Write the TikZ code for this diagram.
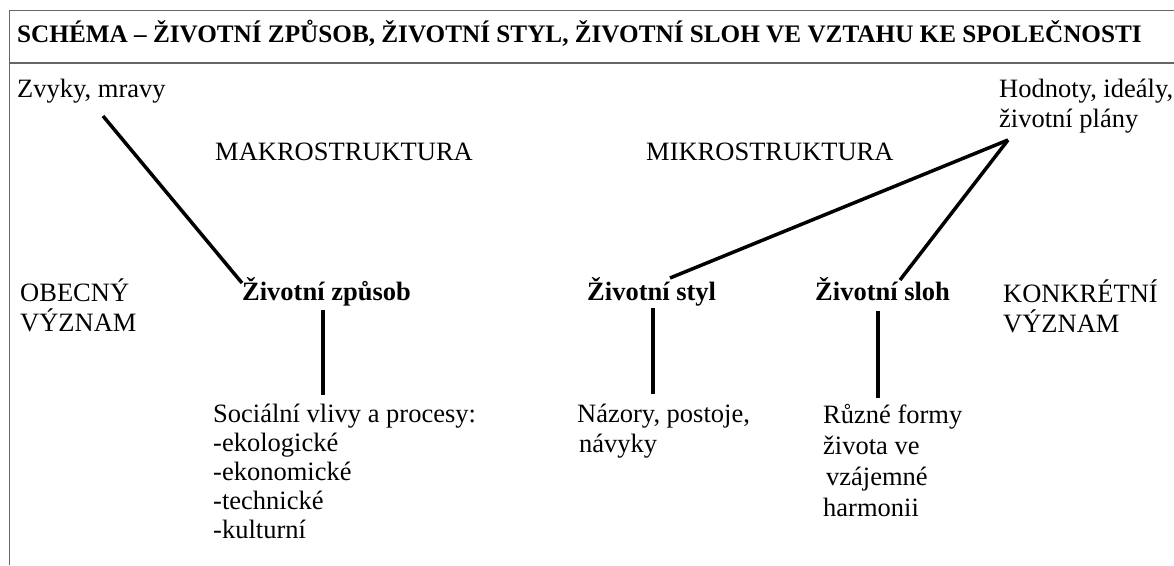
\documentclass[tikz,border=0pt]{standalone}
\usepackage{fontspec}
\setmainfont{Liberation Serif}
\begin{document}
\begin{tikzpicture}[x=1pt,y=-1pt,
  txt/.style={anchor=base west,inner sep=0pt,align=left,font=\fontsize{26.5}{29}\selectfont},
  bold/.style={txt,font=\fontsize{26.5}{29}\selectfont\bfseries},
  frame/.style={draw=black!60,line width=1.6pt},
  conn/.style={draw=black,line width=3.5pt}]
\useasboundingbox (0,0) rectangle (1174,565);
% frame
\coordinate (ftl) at (9.5,10.5);
\coordinate (ftr) at (1174,10.5);
\coordinate (fbl) at (9.5,565);
\coordinate (fml) at (9.5,63);
\coordinate (fmr) at (1174,63);
\draw[frame] (fbl) -- (ftl) -- (ftr);
\draw[frame] (fml) -- (fmr);
% title
\node[bold,font=\fontsize{25.2}{29}\selectfont\bfseries] (title) at (17,42) {SCHÉMA – ŽIVOTNÍ ZPŮSOB, ŽIVOTNÍ STYL, ŽIVOTNÍ SLOH VE VZTAHU KE SPOLEČNOSTI};
% texts (multi-line nodes are placed by the baseline of their last line)
\node[txt] (zvyky) at (17,97) {Zvyky, mravy};
\node[txt,font=\fontsize{26.5}{30}\selectfont] (hodnoty) at (999,127) {Hodnoty, ideály,\\životní plány};
\node[txt] (makro) at (215,160) {MAKROSTRUKTURA};
\node[txt] (mikro) at (646,160) {MIKROSTRUKTURA};
\node[txt,font=\fontsize{26.5}{30}\selectfont] (obecny) at (20,331) {OBECNÝ\\VÝZNAM};
\node[txt,font=\fontsize{26.5}{30}\selectfont] (konkretni) at (1003,332) {KONKRÉTNÍ\\VÝZNAM};
\node[bold] (zpusob) at (242,300) {Životní způsob};
\node[bold] (styl) at (587,300) {Životní styl};
\node[bold] (sloh) at (815,300) {Životní sloh};
\node[txt,font=\fontsize{26.5}{28.8}\selectfont] (vlivy) at (213,538) {Sociální vlivy a procesy:\\-ekologické\\-ekonomické\\-technické\\-kulturní};
\node[txt,font=\fontsize{26.5}{30}\selectfont] (nazory) at (577,452) {Názory, postoje,\\\hspace{2pt}návyky};
\node[txt,font=\fontsize{26.5}{31}\selectfont] (formy) at (823,516) {Různé formy\\života ve\\\hspace{3pt}vzájemné\\harmonii};
% connector end points
\coordinate (zvykyEnd) at (103,116);
\coordinate (zpusobTop) at (242,283);
\coordinate (hodnotyEnd) at (1008,140);
\coordinate (stylTop) at (670,278);
\coordinate (slohTop) at (900,280);
\coordinate (zpusobA) at (323,310);
\coordinate (zpusobB) at (323,395);
\coordinate (stylA) at (653,308);
\coordinate (stylB) at (653,394);
\coordinate (slohA) at (878,311);
\coordinate (slohB) at (878,398);
\draw[conn] (zvykyEnd) -- (zpusobTop);
\draw[conn] (hodnotyEnd) -- (stylTop);
\draw[conn] (hodnotyEnd) -- (slohTop);
\draw[conn] (zpusobA) -- (zpusobB);
\draw[conn] (stylA) -- (stylB);
\draw[conn] (slohA) -- (slohB);
\end{tikzpicture}
\end{document}
